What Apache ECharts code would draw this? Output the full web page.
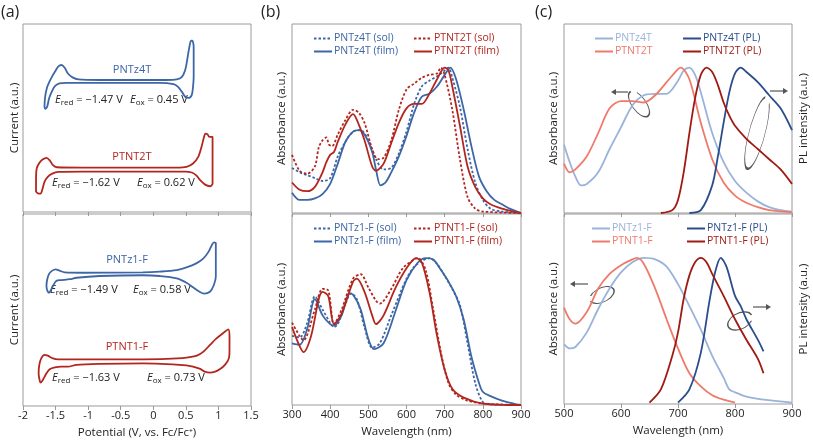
<!DOCTYPE html>
<html><head><meta charset="utf-8">
<script src="https://cdn.jsdelivr.net/npm/echarts@6/dist/echarts.min.js"></script>
<style>html,body{margin:0;padding:0;background:#fff}#c{width:813px;height:440px}</style>
</head><body><div id="c"></div><script>
// ---------- (a) cyclic voltammetry: [potential (V), current (a.u.)] ----------
const cvPNTz4T = [[-1.67,55.9],[-1.66,61.3],[-1.63,66.3],[-1.59,69.6],[-1.55,72.3],[-1.51,74.6],[-1.46,77.3],[-1.41,78.2],[-1.36,76.7],[-1.31,73.7],[-1.24,71.6],[-1.15,70.5],[-0.82,70.2],[-0.16,70.2],[0.20,70.2],[0.36,70.5],[0.44,71.9],[0.49,75.5],[0.52,80.8],[0.55,87.0],[0.58,91.1],[0.60,91.1],[0.62,87.9],[0.62,80.8],[0.62,71.9],[0.61,66.6],[0.59,62.2],[0.54,60.7],[0.49,61.3],[0.44,63.9],[0.38,66.6],[0.31,68.0],[0.10,68.7],[-0.82,68.7],[-1.33,68.7],[-1.44,68.4],[-1.51,67.0],[-1.56,63.9],[-1.60,60.4],[-1.63,55.9],[-1.66,54.9],[-1.67,55.9]];
const cvPTNT2T = [[-1.80,10.7],[-1.80,16.9],[-1.79,23.1],[-1.75,26.1],[-1.70,27.9],[-1.64,28.8],[-1.59,27.5],[-1.54,24.9],[-1.48,23.8],[-1.08,23.6],[-0.31,23.6],[0.36,23.6],[0.51,24.0],[0.61,25.8],[0.69,29.3],[0.74,34.6],[0.78,40.0],[0.80,41.7],[0.83,41.4],[0.86,40.0],[0.91,40.0],[0.91,27.5],[0.91,15.1],[0.87,13.7],[0.79,14.7],[0.72,16.9],[0.66,19.5],[0.59,21.0],[0.49,21.5],[-0.31,21.5],[-1.08,21.5],[-1.46,21.3],[-1.55,20.4],[-1.62,18.7],[-1.67,16.0],[-1.70,12.4],[-1.73,9.8],[-1.76,9.8],[-1.80,10.7]];
const cvPNTz1F = [[-1.62,59.5],[-1.64,62.2],[-1.63,65.6],[-1.60,68.8],[-1.55,70.5],[-1.50,71.2],[-1.44,70.5],[-1.36,69.6],[-1.08,69.4],[-0.16,69.6],[0.10,70.0],[0.36,70.8],[0.51,72.2],[0.66,74.3],[0.77,76.9],[0.85,80.4],[0.90,83.9],[0.93,85.2],[0.96,84.7],[0.96,77.8],[0.96,67.4],[0.93,63.0],[0.87,59.5],[0.78,58.5],[0.71,59.5],[0.61,61.8],[0.51,64.2],[0.36,66.5],[0.10,67.7],[-0.16,68.1],[-0.82,67.7],[-1.18,66.8],[-1.26,66.1],[-1.31,66.0],[-1.41,65.6],[-1.49,65.1],[-1.54,62.5],[-1.58,59.9],[-1.60,59.0],[-1.62,59.5]];
const cvPTNT1F = [[-1.74,12.7],[-1.76,17.0],[-1.75,21.4],[-1.72,24.8],[-1.67,26.6],[-1.62,26.2],[-1.54,24.8],[-1.46,24.3],[-1.08,24.3],[-0.16,24.3],[0.20,24.5],[0.51,25.2],[0.67,26.2],[0.77,28.3],[0.87,31.8],[0.97,35.2],[1.08,38.2],[1.15,39.9],[1.17,36.1],[1.17,29.2],[1.16,24.8],[1.10,21.4],[1.02,19.1],[0.95,17.9],[0.87,17.4],[0.79,17.9],[0.72,19.3],[0.61,20.5],[0.51,21.2],[-0.16,22.2],[-0.82,21.9],[-1.18,21.4],[-1.31,20.5],[-1.41,20.5],[-1.51,20.1],[-1.59,19.1],[-1.64,17.0],[-1.69,13.9],[-1.73,12.2],[-1.74,12.7]];
const cvLabels = [
  {name:'PNTz4T', ered:'−1.47', eox:'0.45'},
  {name:'PTNT2T', ered:'−1.62', eox:'0.62'},
  {name:'PNTz1-F', ered:'−1.49', eox:'0.58'},
  {name:'PTNT1-F', ered:'−1.63', eox:'0.73'}
];
// ---------- (b) absorbance: [wavelength (nm), normalized absorbance] ----------
const absPNTz4TSol = [[300,0.31],[320,0.28],[340,0.26],[360,0.24],[380,0.22],[400,0.24],[420,0.39],[440,0.49],[460,0.56],[480,0.57],[500,0.50],[520,0.37],[540,0.30],[560,0.31],[580,0.41],[600,0.56],[620,0.75],[640,0.87],[660,0.91],[680,0.94],[700,0.98],[710,1.0],[720,0.93],[740,0.73],[760,0.44],[780,0.21],[800,0.09],[820,0.03],[850,0.01],[900,0]];
const absPNTz4TFilm = [[300,0.14],[320,0.09],[340,0.09],[360,0.10],[380,0.13],[400,0.20],[420,0.34],[440,0.49],[460,0.56],[475,0.57],[490,0.54],[510,0.42],[520,0.30],[532,0.19],[545,0.21],[560,0.28],[580,0.39],[600,0.53],[620,0.69],[640,0.80],[660,0.82],[680,0.87],[700,0.95],[715,1.0],[730,0.92],[750,0.71],[770,0.46],[790,0.25],[810,0.15],[830,0.09],[850,0.06],[870,0.03],[900,0]];
const absPTNT2TSol = [[300,0.40],[320,0.29],[340,0.27],[360,0.32],[370,0.45],[380,0.50],[390,0.52],[397,0.47],[405,0.46],[420,0.54],[440,0.64],[460,0.71],[475,0.69],[490,0.62],[510,0.44],[525,0.37],[540,0.38],[560,0.50],[580,0.71],[600,0.85],[620,0.89],[640,0.93],[660,0.95],[680,0.96],[690,1.0],[700,0.95],[720,0.71],[740,0.37],[760,0.11],[780,0.03],[800,0.01],[900,0]];
const absPTNT2TFilm = [[300,0.21],[320,0.16],[340,0.15],[360,0.18],[380,0.28],[390,0.35],[400,0.40],[410,0.42],[420,0.49],[440,0.61],[460,0.68],[470,0.64],[490,0.50],[510,0.32],[520,0.29],[540,0.34],[560,0.48],[580,0.62],[600,0.72],[620,0.75],[640,0.75],[660,0.82],[680,0.92],[700,1.0],[710,0.98],[720,0.87],[740,0.60],[760,0.32],[780,0.18],[800,0.10],[820,0.06],[850,0.03],[880,0.01],[900,0]];
const absPNTz1FSol = [[300,0.47],[320,0.46],[340,0.56],[360,0.74],[380,0.65],[400,0.56],[410,0.53],[420,0.55],[440,0.69],[455,0.76],[470,0.72],[490,0.53],[510,0.39],[530,0.42],[560,0.61],[600,0.86],[620,0.94],[640,0.98],[660,1.0],[680,0.96],[700,0.88],[720,0.79],[740,0.68],[760,0.42],[780,0.15],[800,0.02],[820,0.005],[900,0]];
const absPNTz1FFilm = [[300,0.42],[320,0.41],[340,0.52],[360,0.72],[380,0.61],[400,0.55],[410,0.54],[430,0.61],[450,0.76],[460,0.75],[480,0.65],[500,0.45],[515,0.38],[540,0.42],[570,0.63],[600,0.85],[630,0.97],[650,1.0],[670,0.99],[690,0.92],[710,0.84],[730,0.74],[750,0.58],[770,0.33],[790,0.15],[800,0.09],[820,0.06],[850,0.03],[880,0.01],[900,0]];
const absPTNT1FSol = [[300,0.56],[320,0.47],[330,0.44],[360,0.65],[380,0.79],[395,0.78],[410,0.55],[430,0.65],[460,0.86],[480,0.89],[500,0.80],[520,0.71],[530,0.69],[560,0.79],[590,0.93],[620,0.99],[630,1.0],[650,0.92],[670,0.65],[690,0.36],[710,0.15],[730,0.07],[760,0.03],[800,0.01],[900,0]];
const absPTNT1FFilm = [[300,0.53],[320,0.40],[330,0.36],[350,0.47],[370,0.72],[380,0.77],[395,0.74],[410,0.55],[430,0.62],[460,0.84],[470,0.86],[490,0.77],[510,0.61],[520,0.55],[540,0.61],[570,0.79],[600,0.93],[625,1.0],[640,0.97],[660,0.77],[680,0.47],[700,0.24],[720,0.11],[750,0.05],[800,0.01],[900,0]];
// ---------- (c) absorbance and PL: [wavelength (nm), normalized intensity] ----------
const absPNTz4T = [[500,0.47],[510,0.35],[520,0.25],[530,0.19],[540,0.20],[560,0.28],[580,0.44],[600,0.59],[620,0.74],[640,0.81],[660,0.82],[680,0.82],[700,0.91],[710,0.98],[720,1.0],[730,0.95],[740,0.83],[760,0.55],[780,0.35],[800,0.22],[820,0.14],[840,0.08],[860,0.04],[880,0.02],[900,0.01]];
const absPTNT2T = [[500,0.34],[510,0.28],[520,0.30],[540,0.39],[560,0.55],[580,0.72],[600,0.77],[620,0.77],[640,0.76],[660,0.81],[680,0.90],[700,0.99],[705,1.0],[720,0.92],[740,0.62],[760,0.37],[780,0.21],[800,0.12],[820,0.07],[840,0.04],[860,0.02],[900,0.005]];
const plPNTz4T = [[720,0],[740,0.02],[760,0.19],[770,0.39],[780,0.62],[790,0.83],[800,0.96],[810,1.0],[820,0.97],[840,0.90],[860,0.81],[880,0.72],[900,0.57]];
const plPTNT2T = [[670,0],[690,0.02],[700,0.09],[710,0.28],[720,0.55],[730,0.79],[740,0.95],[750,1.0],[760,0.97],[770,0.88],[780,0.76],[790,0.67],[800,0.60],[820,0.51],[840,0.44],[860,0.37],[880,0.30],[900,0.20]];
const absPNTz1F = [[500,0.41],[510,0.38],[520,0.39],[540,0.49],[560,0.65],[580,0.79],[600,0.90],[620,0.97],[640,1.0],[660,0.99],[680,0.94],[700,0.82],[720,0.67],[740,0.51],[760,0.33],[780,0.18],[790,0.10],[800,0.08],[820,0.05],[850,0.03],[900,0.01]];
const absPTNT1F = [[500,0.66],[510,0.58],[520,0.55],[540,0.63],[560,0.79],[580,0.89],[600,0.95],[620,0.99],[628,1.0],[640,0.96],[660,0.79],[680,0.58],[700,0.38],[720,0.21],[740,0.12],[760,0.06],[780,0.03],[800,0.01]];
const plPNTz1F = [[700,0.01],[720,0.10],[740,0.35],[755,0.70],[765,0.90],[775,1.0],[785,0.94],[800,0.74],[810,0.67],[820,0.58],[840,0.44],[850,0.36]];
const plPTNT1F = [[650,0.01],[670,0.10],[690,0.33],[700,0.49],[710,0.72],[720,0.88],[730,0.97],[740,1.0],[750,0.97],[760,0.89],[780,0.74],[800,0.58],[820,0.44],[840,0.31],[850,0.21]];

const BLUE='#3d66a6', RED='#b3261e', LBLUE='#9bb3da', SALMON='#ef7a6c', DBLUE='#2b4d8c', DRED='#9e1a12';
const BOX='#9a9a9a', TXT='#222', FONT='Open Sans';

const grids = [
  {left:23, top:24, width:228, height:188},
  {left:23, top:214, width:228, height:192},
  {left:292, top:24, width:229, height:189},
  {left:292, top:214, width:229, height:191},
  {left:564, top:24, width:228, height:189},
  {left:564, top:214, width:228, height:190}
].map(g => Object.assign(g, {show:true, borderColor:BOX, borderWidth:1, backgroundColor:'transparent', containLabel:false, outerBoundsMode:'none'}));

function xAx(i, min, max, interval, label, name){
  return {type:'value', gridIndex:i, min, max, interval,
    axisLine:{show:false}, splitLine:{show:false},
    axisTick:{show:true, length:4, lineStyle:{color:BOX}},
    axisLabel:{show:label, color:TXT, fontSize:11, margin:4, fontFamily:FONT, showMinLabel:true, showMaxLabel:true},
    name: name || '', nameLocation:'middle', nameGap:21,
    nameTextStyle:{color:TXT, fontSize:11.5, fontFamily:FONT}};
}
function yAx(i, max, name, pos, gap){
  return {type:'value', gridIndex:i, min:0, max, position:pos||'left',
    axisLine:{show:false}, axisTick:{show:false}, axisLabel:{show:false}, splitLine:{show:false},
    name, nameLocation:'middle', nameRotate:90, nameGap:gap,
    nameTextStyle:{color:TXT, fontSize:11.5, fontFamily:FONT}};
}
const xAxes = [
  xAx(0,-2,1.5,0.5,false), xAx(1,-2,1.5,0.5,true,'Potential (V, vs. Fc/Fc\u207A)'),
  xAx(2,300,900,100,false), xAx(3,300,900,100,true,'Wavelength (nm)'),
  xAx(4,500,900,100,false), xAx(5,500,900,100,true,'Wavelength (nm)')
];
const yAxes = [
  yAx(0,100,'Current (a.u.)','left',2), yAx(1,100,'Current (a.u.)','left',2),
  yAx(2,1.3,'Absorbance (a.u.)','left',4), yAx(3,1.3,'Absorbance (a.u.)','left',4),
  yAx(4,1.3,'Absorbance (a.u.)','left',4), yAx(5,1.3,'Absorbance (a.u.)','left',4),
  yAx(4,1.3,'PL intensity (a.u.)','right',6), yAx(5,1.3,'PL intensity (a.u.)','right',6)
];

function ser(name, data, g, color, dashed, width){
  return {type:'line', name, data, xAxisIndex:g, yAxisIndex:g, symbol:'none', smooth:0.3,
    lineStyle:{color, width:width||1.8, type: dashed ? [2.5,2] : 'solid'}, itemStyle:{color},
    silent:true, animation:false, clip:true, z: 3};
}
const series = [
  ser('cv PNTz4T', cvPNTz4T, 0, BLUE), ser('cv PTNT2T', cvPTNT2T, 0, RED),
  ser('cv PNTz1-F', cvPNTz1F, 1, BLUE), ser('cv PTNT1-F', cvPTNT1F, 1, RED),
  ser('PNTz4T (sol)', absPNTz4TSol, 2, BLUE, true), ser('PNTz4T (film)', absPNTz4TFilm, 2, BLUE),
  ser('PTNT2T (sol)', absPTNT2TSol, 2, RED, true), ser('PTNT2T (film)', absPTNT2TFilm, 2, RED),
  ser('PNTz1-F (sol)', absPNTz1FSol, 3, BLUE, true), ser('PNTz1-F (film)', absPNTz1FFilm, 3, BLUE),
  ser('PTNT1-F (sol)', absPTNT1FSol, 3, RED, true), ser('PTNT1-F (film)', absPTNT1FFilm, 3, RED),
  ser('PNTz4T', absPNTz4T, 4, LBLUE), ser('PTNT2T', absPTNT2T, 4, SALMON),
  ser('PNTz4T (PL)', plPNTz4T, 4, DBLUE), ser('PTNT2T (PL)', plPTNT2T, 4, DRED),
  ser('PNTz1-F', absPNTz1F, 5, LBLUE), ser('PTNT1-F', absPTNT1F, 5, SALMON),
  ser('PNTz1-F (PL)', plPNTz1F, 5, DBLUE), ser('PTNT1-F (PL)', plPTNT1F, 5, DRED)
];

function leg(left, top, items){
  return {left, top, orient:'vertical', itemGap:2, itemWidth:18, itemHeight:10, selectedMode:false,
    padding:0, itemStyle:{opacity:0},
    textStyle:{fontSize:10.5, fontFamily:FONT, padding:[0,0,0,-3]},
    data: items.map(([n,c]) => ({name:n, textStyle:{color:c}}))};
}
const legends = [
  leg(313, 33, [['PNTz4T (sol)',BLUE],['PNTz4T (film)',BLUE]]),
  leg(413, 33, [['PTNT2T (sol)',RED],['PTNT2T (film)',RED]]),
  leg(313, 223, [['PNTz1-F (sol)',BLUE],['PNTz1-F (film)',BLUE]]),
  leg(413, 223, [['PTNT1-F (sol)',RED],['PTNT1-F (film)',RED]]),
  leg(594, 33, [['PNTz4T',LBLUE],['PTNT2T',SALMON]]),
  leg(682, 33, [['PNTz4T (PL)',DBLUE],['PTNT2T (PL)',DRED]]),
  leg(591, 223, [['PNTz1-F',LBLUE],['PTNT1-F',SALMON]]),
  leg(686, 223, [['PNTz1-F (PL)',DBLUE],['PTNT1-F (PL)',DRED]])
];

// ---------- decorations ----------
const rich = {i:{fontStyle:'italic', fontSize:11, fontFamily:FONT, lineHeight:14, verticalAlign:'middle'},
              s:{fontSize:8, fontFamily:FONT, lineHeight:8, verticalAlign:'bottom'},
              n:{fontSize:11, fontFamily:FONT, lineHeight:14}};
function txt(x, y, text, opts){
  return Object.assign({type:'text', x, y, style:Object.assign({text, fill:TXT, font:'11px "Open Sans"', verticalAlign:'middle', align:'left'}, opts||{})});
}
function eTxt(x, y, sub, val){
  return txt(x, y, '{i|E}{s|' + sub + '}{n| = ' + val + ' V}', {rich});
}
const cvPos = [
  {c:[132,70], col:BLUE, r:[55,100], o:[130,100]},
  {c:[132,157], col:RED, r:[52,183], o:[137,183]},
  {c:[127,260], col:BLUE, r:[50,290], o:[133,290]},
  {c:[127,347], col:RED, r:[52,378], o:[147,378]}
];
const graphics = [];
cvLabels.forEach((l, k) => {
  const p = cvPos[k];
  graphics.push(txt(p.c[0], p.c[1], l.name, {fill:p.col, align:'center', font:'11px "Open Sans"'}));
  graphics.push(eTxt(p.r[0], p.r[1], 'red', l.ered));
  graphics.push(eTxt(p.o[0], p.o[1], 'ox', l.eox));
});
graphics.push(txt(1, 12, '(a)', {font:'16px "Open Sans"'}));
graphics.push(txt(261, 12, '(b)', {font:'16px "Open Sans"'}));
graphics.push(txt(535, 12, '(c)', {font:'16px "Open Sans"'}));
const GRAY = '#555';
function arrow(x1, y1, x2, y2){
  const a = Math.atan2(y2-y1, x2-x1), h = 5, w = 3;
  const bx = x2 - h*Math.cos(a), by = y2 - h*Math.sin(a);
  graphics.push({type:'line', shape:{x1, y1, x2:bx, y2:by}, style:{stroke:GRAY, lineWidth:1.2}});
  graphics.push({type:'polygon', shape:{points:[[x2,y2],[bx - w*Math.sin(a), by + w*Math.cos(a)],[bx + w*Math.sin(a), by - w*Math.cos(a)]]}, style:{fill:GRAY}});
}
function loop(cx, cy, rx, ry, rot, gapAt){
  graphics.push({type:'arc', x:cx, y:cy, rotation:rot, scaleX:1, scaleY:ry/rx,
    shape:{cx:0, cy:0, r:rx, startAngle:gapAt+0.35, endAngle:gapAt+2*Math.PI-0.35},
    style:{stroke:GRAY, lineWidth:1.2, fill:null, strokeNoScale:true}});
}
arrow(628, 92, 611, 92); loop(639, 104, 15, 7, -0.94, 3.6);
arrow(770, 91, 788, 91); loop(757, 133, 37, 8, 1.31, 0.2);
arrow(588, 284, 570, 284); loop(602, 295, 13, 7, 0.45, 3.4);
arrow(753, 307, 771, 307); loop(740, 321, 13, 8, 0.45, 0.3);

const chart = echarts.init(document.getElementById('c'), null, {renderer:'canvas'});
chart.setOption({
  animation:false, backgroundColor:'#fff',
  textStyle:{fontFamily:FONT},
  grid: grids, xAxis: xAxes, yAxis: yAxes, series, legend: legends,
  graphic: {elements: graphics}
});
</script></body></html>
